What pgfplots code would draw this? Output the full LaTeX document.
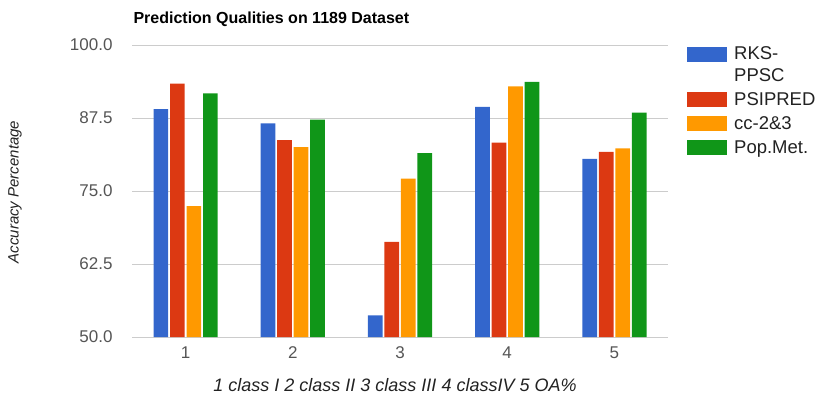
\documentclass[border=0pt]{standalone}
\usepackage{pgfplots}
\pgfplotsset{compat=1.18}
\usepackage{fontspec}
\setmainfont{Liberation Sans}
\setsansfont{Liberation Sans}
\definecolor{cblue}{HTML}{3366CC}
\definecolor{cred}{HTML}{DC3912}
\definecolor{corange}{HTML}{FF9900}
\definecolor{cgreen}{HTML}{109618}
\definecolor{tickgray}{HTML}{555555}
\definecolor{gridgray}{HTML}{CCCCCC}
\definecolor{legtext}{HTML}{222222}
\begin{document}
\begin{tikzpicture}[x=1pt,y=1pt]
\useasboundingbox (0,0) rectangle (818,396);
\begin{axis}[
  at={(132pt,59pt)}, anchor=south west,
  scale only axis, width=536pt, height=292pt,
  xmin=0.5, xmax=5.5, ymin=50, ymax=100,
  ytick={50,62.5,75,87.5,100},
  xtick={1,2,3,4,5},
  /pgf/number format/assume math mode=true,
  yticklabel style={/pgf/number format/fixed, /pgf/number format/fixed zerofill, /pgf/number format/precision=1, font=\fontsize{17}{19}\selectfont, text=tickgray, xshift=-16pt},
  xticklabel style={font=\fontsize{17}{19}\selectfont, text=tickgray, yshift=-6pt},
  axis line style={draw=none},
  ymajorgrids, grid style={gridgray, line width=0.8pt},
  major tick length=0pt,
  ybar=1.8pt, bar width=14.7pt,
  every axis plot/.append style={draw=none},
  legend style={draw=none, fill=none, at={(axis description cs:1.0354,0.995)}, anchor=north west,
    inner sep=0pt, row sep=9pt, column sep=7pt,
    nodes={inner sep=0pt, align=left, text=legtext, font=\fontsize{18.5}{22}\selectfont}},
  legend cell align=left,
  legend image code/.code={\fill[#1] (0pt,-7.5pt) rectangle (40pt,7.5pt);},
  clip=false,
]
\addplot[fill=cblue, legend image code/.code={\fill[cblue] (0pt,3.5pt) rectangle (40pt,18.5pt);}] coordinates {(1,89.0) (2,86.6) (3,53.7) (4,89.4) (5,80.5)};
\addplot[fill=cred] coordinates {(1,93.4) (2,83.7) (3,66.3) (4,83.3) (5,81.7)};
\addplot[fill=corange] coordinates {(1,72.4) (2,82.5) (3,77.1) (4,92.9) (5,82.3)};
\addplot[fill=cgreen] coordinates {(1,91.7) (2,87.2) (3,81.5) (4,93.7) (5,88.4)};
\legend{RKS-\\PPSC, PSIPRED, cc-2\&3, Pop.Met.}
\end{axis}
\node[anchor=base west, font=\bfseries\fontsize{16}{18}\selectfont, text=black] at (130,372) {Prediction Qualities on 1189 Dataset};
\node[rotate=90, font=\itshape\fontsize{15}{17}\selectfont, text=legtext] at (15,204) {Accuracy Percentage};
\node[font=\itshape\fontsize{18}{20}\selectfont, text=legtext] at (395,11) {1 class I 2 class II 3 class III 4 classIV 5 OA\%};
\end{tikzpicture}
\end{document}
